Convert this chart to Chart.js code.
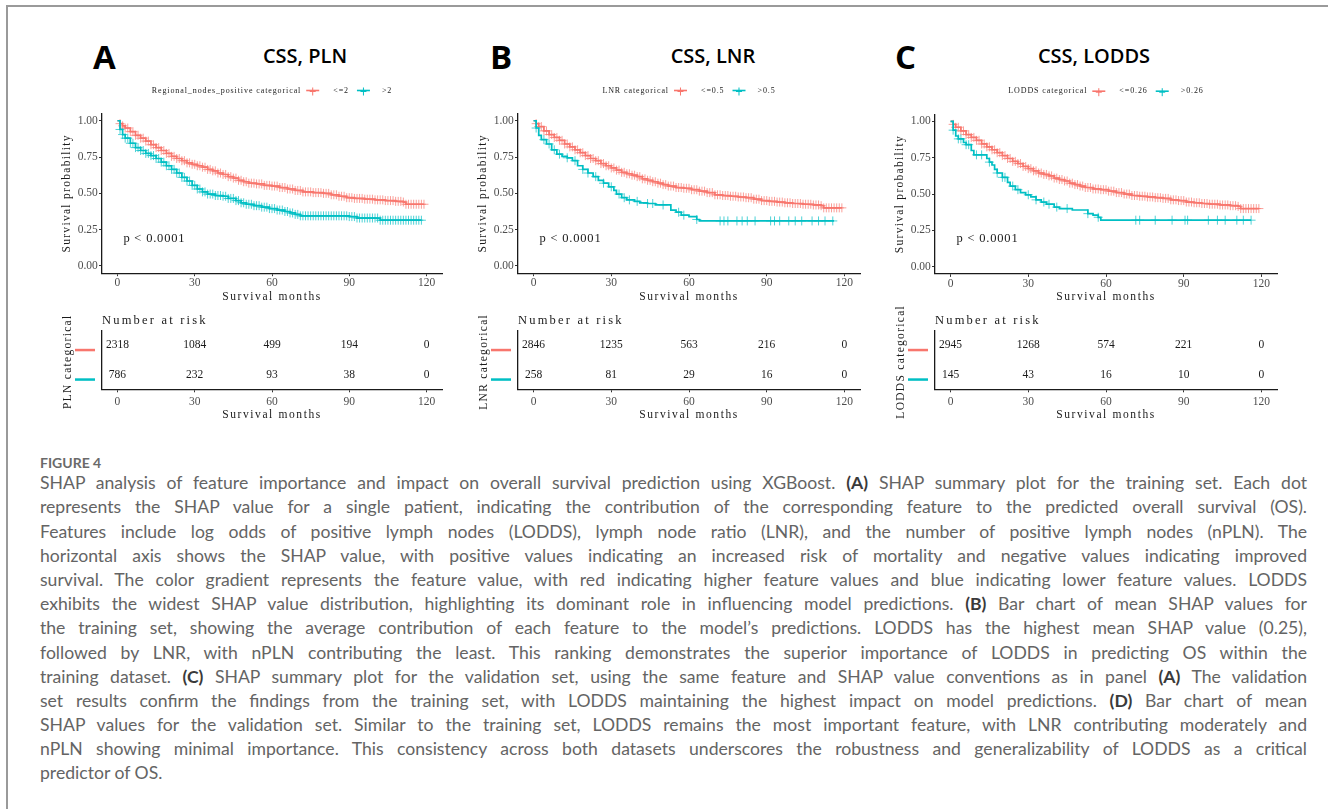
<!DOCTYPE html>
<html>
<head>
<meta charset="utf-8">
<title>Figure 4</title>
<script src="https://cdn.jsdelivr.net/npm/chart.js@4.4.1/dist/chart.umd.min.js"></script>
<style>
  body { margin: 0; background: #fff; }
  #page { position: relative; width: 1328px; height: 809px; overflow: hidden; background: #fff; }
  #frame { position: absolute; left: 6px; top: 5px; width: 1340px; height: 820px; border-top: 2px solid #9a9a9a; border-left: 2px solid #9a9a9a; }
  canvas { position: absolute; }
  .letter { position: absolute; top: 40px; font-family: "Open Sans", sans-serif; font-weight: 700; font-size: 33px; line-height: 33px; color: #000; }
  .ttl { position: absolute; top: 46px; width: 300px; text-align: center; font-family: "Open Sans", sans-serif; font-weight: 600; font-size: 20px; line-height: 20px; color: #000; }
  #caption { position: absolute; left: 40px; top: 453px; width: 1267px; font-family: Lato, "Open Sans", sans-serif; color: #646464; }
  #caption .fig { font-size: 14px; font-weight: 700; line-height: 20px; height: 18.2px; color: #6a6a6a; }
  #caption .ln { font-size: 17.6px; line-height: 24.2px; height: 24.2px; white-space: nowrap; text-align: justify; text-align-last: justify; }
  #caption .ln.end { text-align-last: left; }
  #caption b { color: #3a3a3a; }
</style>
</head>
<body>
<div id="page">
  <div id="frame"></div>
  <div class="letter" style="left:93px">A</div>
  <div class="letter" style="left:490px">B</div>
  <div class="letter" style="left:895px">C</div>
  <div class="ttl" style="left:155px">CSS, PLN</div>
  <div class="ttl" style="left:563px">CSS, LNR</div>
  <div class="ttl" style="left:944px">CSS, LODDS</div>
  <div id="caption">
    <div class="fig">FIGURE 4</div>
    <div class="ln">SHAP analysis of feature importance and impact on overall survival prediction using XGBoost. <b>(A)</b> SHAP summary plot for the training set. Each dot</div>
    <div class="ln">represents the SHAP value for a single patient, indicating the contribution of the corresponding feature to the predicted overall survival (OS).</div>
    <div class="ln">Features include log odds of positive lymph nodes (LODDS), lymph node ratio (LNR), and the number of positive lymph nodes (nPLN). The</div>
    <div class="ln">horizontal axis shows the SHAP value, with positive values indicating an increased risk of mortality and negative values indicating improved</div>
    <div class="ln">survival. The color gradient represents the feature value, with red indicating higher feature values and blue indicating lower feature values. LODDS</div>
    <div class="ln">exhibits the widest SHAP value distribution, highlighting its dominant role in influencing model predictions. <b>(B)</b> Bar chart of mean SHAP values for</div>
    <div class="ln">the training set, showing the average contribution of each feature to the model’s predictions. LODDS has the highest mean SHAP value (0.25),</div>
    <div class="ln">followed by LNR, with nPLN contributing the least. This ranking demonstrates the superior importance of LODDS in predicting OS within the</div>
    <div class="ln">training dataset. <b>(C)</b> SHAP summary plot for the validation set, using the same feature and SHAP value conventions as in panel <b>(A)</b> The validation</div>
    <div class="ln">set results confirm the findings from the training set, with LODDS maintaining the highest impact on model predictions. <b>(D)</b> Bar chart of mean</div>
    <div class="ln">SHAP values for the validation set. Similar to the training set, LODDS remains the most important feature, with LNR contributing moderately and</div>
    <div class="ln">nPLN showing minimal importance. This consistency across both datasets underscores the robustness and generalizability of LODDS as a critical</div>
    <div class="ln end">predictor of OS.</div>
  </div>
</div>
<script>
// tick positions
var months = [0, 30, 60, 90, 120];
var probTicks = [0, 0.25, 0.5, 0.75, 1];

// panel A: Regional nodes positive (<=2 / >2)
var aRedTime = [0,1,2,3,5,7,9,11,13,15,17,19,21,23,25,27,29,31,33,35,37,39,41,43,45,47,49,51,54,57,60,63,66,69,72,76,80,83,86,89,92,96,100,104,108,111,112,119];
var aRedSurv = [1,0.98,0.965,0.95,0.925,0.9,0.88,0.86,0.835,0.815,0.795,0.775,0.755,0.74,0.725,0.71,0.7,0.69,0.68,0.665,0.655,0.64,0.63,0.615,0.605,0.59,0.58,0.57,0.565,0.555,0.55,0.54,0.53,0.52,0.51,0.505,0.5,0.49,0.48,0.47,0.465,0.46,0.455,0.45,0.445,0.44,0.425,0.425];
var aCyanTime = [0,1,2,3,5,7,9,11,13,15,17,19,21,23,25,27,29,31,33,35,38,41,43,46,48,50,53,56,59,62,65,67,69,71,90,93,102,118];
var aCyanSurv = [1,0.94,0.905,0.88,0.845,0.815,0.795,0.775,0.76,0.74,0.715,0.69,0.665,0.64,0.61,0.585,0.555,0.53,0.51,0.495,0.485,0.48,0.465,0.45,0.435,0.425,0.415,0.405,0.395,0.385,0.375,0.365,0.355,0.345,0.34,0.33,0.315,0.315];
var aRiskLow = [2318, 1084, 499, 194, 0];
var aRiskHigh = [786, 232, 93, 38, 0];

// panel B: LNR (<=0.5 / >0.5)
var bRedTime = [0,1,2,4,6,8,10,12,14,16,18,20,22,24,26,28,30,32,34,36,38,40,42,44,46,48,50,52,55,58,61,64,67,70,73,76,79,82,85,88,91,94,97,100,104,108,111,112,119];
var bRedSurv = [1,0.98,0.96,0.93,0.905,0.885,0.865,0.84,0.82,0.8,0.78,0.76,0.74,0.725,0.705,0.69,0.675,0.66,0.645,0.635,0.625,0.615,0.6,0.59,0.58,0.57,0.56,0.55,0.54,0.535,0.525,0.515,0.505,0.49,0.485,0.48,0.475,0.47,0.46,0.45,0.445,0.44,0.435,0.43,0.425,0.42,0.415,0.4,0.4];
var bCyanTime = [0,1,2,3,5,7,9,11,13,15,17,19,21,23,25,27,29,31,32,34,36,39,41,44,47,53,55,57,60,63,64,116];
var bCyanSurv = [1,0.95,0.9,0.87,0.84,0.8,0.77,0.755,0.745,0.725,0.69,0.665,0.64,0.615,0.59,0.57,0.545,0.52,0.495,0.47,0.455,0.445,0.435,0.43,0.42,0.385,0.37,0.35,0.34,0.32,0.31,0.31];
var bRiskLow = [2846, 1235, 563, 216, 0];
var bRiskHigh = [258, 81, 29, 16, 0];

// panel C: LODDS (<=0.26 / >0.26)
var cRedTime = [0,1,2,4,6,8,10,12,14,16,18,20,22,24,26,28,30,32,34,36,38,40,42,44,46,48,50,52,55,58,61,64,67,70,73,76,79,82,85,88,91,94,97,100,104,108,111,112,119];
var cRedSurv = [1,0.98,0.96,0.935,0.91,0.89,0.87,0.845,0.825,0.805,0.785,0.765,0.745,0.725,0.71,0.69,0.675,0.66,0.645,0.635,0.625,0.61,0.6,0.59,0.575,0.565,0.555,0.545,0.535,0.53,0.52,0.51,0.5,0.49,0.485,0.48,0.475,0.47,0.46,0.455,0.445,0.44,0.435,0.43,0.425,0.42,0.415,0.4,0.4];
var cCyanTime = [0,1,2,3,5,6,8,9,14,15,16,17,18,20,22,23,25,27,29,31,33,35,37,40,42,47,53,55,57,58,116];
var cCyanSurv = [1,0.94,0.9,0.88,0.855,0.84,0.8,0.77,0.745,0.72,0.7,0.67,0.645,0.615,0.58,0.555,0.53,0.51,0.495,0.48,0.46,0.445,0.43,0.41,0.4,0.39,0.365,0.355,0.34,0.32,0.32];
var cRiskLow = [2945, 1268, 574, 221, 0];
var cRiskHigh = [145, 43, 16, 10, 0];

// censoring times (months)
var denseCensor = [1,2,3,4,5,6,7,8,9,10,11,12,13,14,15,16,17,18,19,20,21,22,23,24,25,26,27,28,29,30,31,32,33,34,35,36,37,38,39,40,41,42,43,44,45,46,47,48,49,50,51,52,53,54,55,56,57,58,59,60,61,62,63,64,65,66,67,68,69,70,71,72,73,74,75,76,77,78,79,80,81,82,83,84,85,86,87,88,89,90,91,92,93,94,95,96,97,98,99,100,101,102,103,104,105,106,107,108,109,110,111,112,113,114,115,116,117,118,119];
var bCyanCensor = [1,4,6,8,10,13,16,19,21,24,27,30,33,35,37,40,44,46,50,56,58,63,72,73.5,75,78.5,80.5,82.5,85.5,91.5,93,95,98.5,101,103.5,107.5,110,112.5,115.5];
var cCyanCensor = [1,3,4,6,7,10,12,15,18,20,21,24,26,30,33,36,38,41,45,53,57,71.5,73,79,85.5,90.5,91.5,99.5,103,106,110.5,113,116];

var red = '#F8766D', cyan = '#00BFC4';
var serif = '"Liberation Serif", "DejaVu Serif", serif';

function survAt(times, surv, t) {
  var s = surv[0];
  for (var i = 0; i < times.length; i++) { if (times[i] <= t) s = surv[i]; }
  return s;
}
function toPoints(times, surv) {
  return times.map(function(t, i){ return {x: t, y: surv[i]}; });
}
function censorPoints(ct, times, surv) {
  var last = times[times.length - 1];
  return ct.filter(function(t){ return t <= last; }).map(function(t){ return {x: t, y: survAt(times, surv, t)}; });
}

var panels = [
  {axisLeft: 102, axisRight: 442, plotTop: 113.5, plotBottom: 273.2,
   legendTitle: 'Regional_nodes_positive categorical', groups: ['<=2', '>2'], tableTitle: 'PLN categorical',
   low: [aRedTime, aRedSurv, denseCensor], high: [aCyanTime, aCyanSurv, denseCensor], risk: [aRiskLow, aRiskHigh]},
  {axisLeft: 518, axisRight: 859.5, plotTop: 113.5, plotBottom: 273.2,
   legendTitle: 'LNR categorical', groups: ['<=0.5', '>0.5'], tableTitle: 'LNR categorical',
   low: [bRedTime, bRedSurv, denseCensor], high: [bCyanTime, bCyanSurv, bCyanCensor], risk: [bRiskLow, bRiskHigh]},
  {axisLeft: 935, axisRight: 1276.6, plotTop: 114.2, plotBottom: 273.9,
   legendTitle: 'LODDS categorical', groups: ['<=0.26', '>0.26'], tableTitle: 'LODDS categorical',
   low: [cRedTime, cRedSurv, denseCensor], high: [cCyanTime, cCyanSurv, cCyanCensor], risk: [cRiskLow, cRiskHigh]}
];

function spacedText(ctx, txt, x, y, font, spacing, align) {
  ctx.font = font;
  ctx.letterSpacing = spacing;
  ctx.textAlign = align || 'center';
  ctx.textBaseline = 'middle';
  ctx.fillText(txt, x, y);
}

function drawKey(ctx, x, y, color) {
  ctx.strokeStyle = color;
  ctx.lineWidth = 1.6;
  ctx.beginPath(); ctx.moveTo(x, y); ctx.lineTo(x + 13, y); ctx.stroke();
  ctx.lineWidth = 1;
  ctx.beginPath(); ctx.moveTo(x + 6.5, y - 3); ctx.lineTo(x + 6.5, y + 5);
  ctx.moveTo(x + 3.5, y + 1); ctx.lineTo(x + 9.5, y + 1); ctx.stroke();
}

var kmDecor = {
  id: 'kmDecor',
  afterDraw: function(chart, args, o) {
    var ctx = chart.ctx, a = chart.chartArea;
    var xs = chart.scales.x, ys = chart.scales.y;
    ctx.save();
    ctx.fillStyle = '#1a1a1a';
    spacedText(ctx, 'Survival months', (a.left + a.right) / 2, a.bottom + 23.5, '11.5px ' + serif, '1.6px');
    ctx.save();
    ctx.translate(a.left - 35, (a.top + a.bottom) / 2);
    ctx.rotate(-Math.PI / 2);
    spacedText(ctx, 'Survival probability', 0, 0, '11.5px ' + serif, '1.3px');
    ctx.restore();
    // p value
    spacedText(ctx, 'p < 0.0001', xs.getPixelForValue(2.3), ys.getPixelForValue(0.19), '12.5px ' + serif, '0.8px', 'left');
    // legend
    ctx.font = '8px ' + serif;
    ctx.letterSpacing = '0.9px';
    var wT = ctx.measureText(o.title).width, w1 = ctx.measureText(o.groups[0]).width, w2 = ctx.measureText(o.groups[1]).width;
    var total = wT + 5 + 13 + 14 + w1 + 8 + 13 + 12 + w2;
    var x = (a.left + a.right) / 2 - total / 2, y = a.top - 23;
    ctx.fillStyle = '#222';
    spacedText(ctx, o.title, x, y, '8px ' + serif, '0.9px', 'left');
    x += wT + 5;
    drawKey(ctx, x, y, red);
    x += 27;
    spacedText(ctx, o.groups[0], x, y, '8px ' + serif, '0.9px', 'left');
    x += w1 + 8;
    drawKey(ctx, x, y, cyan);
    x += 25;
    spacedText(ctx, o.groups[1], x, y, '8px ' + serif, '0.9px', 'left');
    ctx.restore();
  }
};

var riskDecor = {
  id: 'riskDecor',
  afterDraw: function(chart, args, o) {
    var ctx = chart.ctx, a = chart.chartArea;
    ctx.save();
    ctx.fillStyle = '#1a1a1a';
    chart.data.datasets.forEach(function(ds, i) {
      var meta = chart.getDatasetMeta(i);
      meta.data.forEach(function(el, j) {
        spacedText(ctx, String(ds.numbers[j]), el.x, el.y, '11.5px ' + serif, '0px');
      });
      ctx.strokeStyle = ds.rowColor;
      ctx.lineWidth = 2.5;
      ctx.beginPath();
      ctx.moveTo(a.left - 27, meta.data[0].y + 5);
      ctx.lineTo(a.left - 7, meta.data[0].y + 5);
      ctx.stroke();
    });
    spacedText(ctx, 'Number at risk', a.left, a.top - 10, '12.5px ' + serif, '2.2px', 'left');
    spacedText(ctx, 'Survival months', (a.left + a.right) / 2, a.bottom + 26, '11.5px ' + serif, '1.6px');
    ctx.save();
    ctx.translate(a.left - 34, (a.top + a.bottom) / 2 + 2);
    ctx.rotate(-Math.PI / 2);
    spacedText(ctx, o.title, 0, 0, '11.5px ' + serif, '1.3px');
    ctx.restore();
    ctx.restore();
  }
};

function xAxis(height, pad) {
  return {
    type: 'linear', min: -6, max: 126,
    afterBuildTicks: function(s) { s.ticks = months.map(function(v){ return {value: v}; }); },
    afterFit: function(s) { s.height = height; },
    grid: {display: true, drawOnChartArea: false, drawTicks: true, tickLength: 3, color: '#333', lineWidth: 1},
    border: {display: true, color: '#1a1a1a', width: 1.3},
    ticks: {font: {family: serif, size: 11.5}, color: '#4d4d4d', padding: pad, maxRotation: 0, autoSkip: false}
  };
}

var page = document.getElementById('page');

panels.forEach(function(p) {
  // survival curves
  var top = 78, h = 230;
  var w = Math.round(p.axisRight - p.axisLeft) + 48 + 8;
  var cv = document.createElement('canvas');
  cv.width = w; cv.height = h;
  cv.style.left = (p.axisLeft - 48) + 'px';
  cv.style.top = top + 'px';
  page.appendChild(cv);
  new Chart(cv, {
    type: 'line',
    data: {
      datasets: [
        {type: 'scatter', data: censorPoints(p.low[2], p.low[0], p.low[1]), pointStyle: 'cross', pointRadius: 4.5, borderColor: 'rgba(248,118,109,0.7)', borderWidth: 1, showLine: false, order: 3},
        {type: 'scatter', data: censorPoints(p.high[2], p.high[0], p.high[1]), pointStyle: 'cross', pointRadius: 4.5, borderColor: 'rgba(0,191,196,0.7)', borderWidth: 1, showLine: false, order: 2},
        {data: toPoints(p.low[0], p.low[1]), borderColor: red, borderWidth: 1.7, stepped: true, pointRadius: 0, fill: false, order: 1},
        {data: toPoints(p.high[0], p.high[1]), borderColor: cyan, borderWidth: 1.7, stepped: true, pointRadius: 0, fill: false, order: 0}
      ]
    },
    options: {
      responsive: false, animation: false, events: [],
      layout: {padding: {left: 0, right: 8, top: p.plotTop - top, bottom: 0}},
      plugins: {legend: {display: false}, tooltip: {enabled: false},
                kmDecor: {title: p.legendTitle, groups: p.groups}},
      scales: {
        x: xAxis(h - (p.plotBottom - top), 0),
        y: {
          type: 'linear', min: -0.05, max: 1.05,
          afterBuildTicks: function(s) { s.ticks = probTicks.map(function(v){ return {value: v}; }); },
          afterFit: function(s) { s.width = 48; },
          grid: {display: true, drawOnChartArea: false, drawTicks: true, tickLength: 3, color: '#333', lineWidth: 1},
          border: {display: true, color: '#1a1a1a', width: 1.3},
          ticks: {font: {family: serif, size: 11.5}, color: '#4d4d4d', padding: 1.2,
                  callback: function(v) { return Number(v).toFixed(2); }}
        }
      }
    },
    plugins: [kmDecor]
  });

  // risk table
  var rTop = 300, rh = 130, tableTop = 330.3, tableBottom = 389.3;
  var rc = document.createElement('canvas');
  rc.width = w; rc.height = rh;
  rc.style.left = (p.axisLeft - 48) + 'px';
  rc.style.top = rTop + 'px';
  page.appendChild(rc);
  new Chart(rc, {
    type: 'scatter',
    data: {
      datasets: [
        {data: months.map(function(m){ return {x: m, y: p.groups[0]}; }), numbers: p.risk[0], rowColor: red, pointRadius: 0},
        {data: months.map(function(m){ return {x: m, y: p.groups[1]}; }), numbers: p.risk[1], rowColor: cyan, pointRadius: 0}
      ]
    },
    options: {
      responsive: false, animation: false, events: [],
      layout: {padding: {left: 0, right: 8, top: tableTop - rTop, bottom: 0}},
      plugins: {legend: {display: false}, tooltip: {enabled: false}, riskDecor: {title: p.tableTitle}},
      scales: {
        x: xAxis(rh - (tableBottom - rTop), 3),
        y: {
          type: 'category', labels: p.groups, offset: true,
          afterFit: function(s) { s.width = 48; },
          grid: {display: false},
          border: {display: true, color: '#1a1a1a', width: 1.3},
          ticks: {display: false}
        }
      }
    },
    plugins: [riskDecor]
  });
});
</script>
</body>
</html>
